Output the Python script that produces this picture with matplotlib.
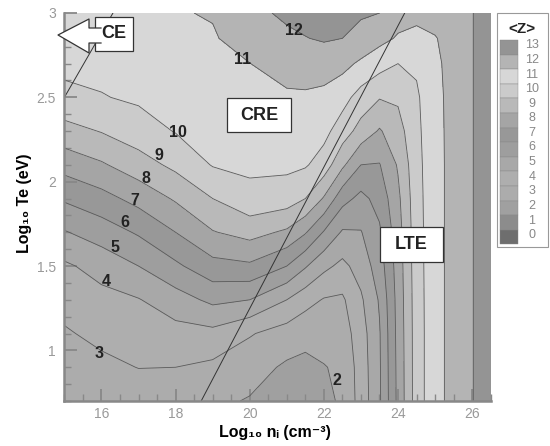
import matplotlib.pyplot as plt
import numpy as np
from matplotlib.patches import Rectangle, Polygon

plt.rcParams['font.family'] = ['Liberation Sans', 'DejaVu Sans']

# malla: log10 ne (cm-3) y log10 Te (eV)
log_ne = [15, 16, 17, 18, 19, 20, 21, 21.5, 22, 22.5, 23, 23.5, 24, 24.5, 25, 25.5, 26, 26.5]
log_te = [0.7, 0.9, 1.1, 1.3, 1.5, 1.7, 1.9, 2.1, 2.3, 2.5, 2.7, 2.85, 3.0]

# <Z>, una fila por cada valor de log_te
z_rows = [
    [2.40, 2.35, 2.45, 2.40, 2.20, 1.93, 1.70, 1.75, 1.75, 2.15, 3.40, 4.85, 7.25, 9.50, 10.70, 11.30, 11.95, 12.80],
    [2.65, 2.78, 3.02, 3.00, 2.79, 2.39, 1.85, 1.80, 1.95, 2.20, 3.45, 4.88, 7.28, 9.50, 10.70, 11.30, 11.95, 12.80],
    [2.90, 3.23, 3.49, 3.65, 3.72, 3.08, 2.56, 2.25, 2.43, 2.50, 3.55, 4.92, 7.32, 9.50, 10.70, 11.30, 11.95, 12.80],
    [3.32, 3.70, 3.95, 4.56, 5.23, 5.00, 4.00, 3.38, 2.93, 2.85, 3.85, 5.10, 7.37, 9.52, 10.70, 11.30, 11.95, 12.80],
    [3.84, 4.37, 5.00, 5.81, 6.67, 6.83, 6.00, 5.10, 4.25, 3.75, 4.41, 5.50, 7.45, 9.55, 10.70, 11.30, 11.95, 12.80],
    [4.93, 5.47, 6.12, 7.00, 7.94, 8.36, 7.83, 7.09, 5.92, 4.88, 4.95, 5.85, 7.58, 9.58, 10.70, 11.30, 11.95, 12.80],
    [6.13, 6.65, 7.33, 8.12, 9.00, 9.69, 9.50, 9.00, 7.90, 6.36, 5.72, 6.35, 7.78, 9.62, 10.70, 11.30, 11.95, 12.80],
    [7.38, 7.88, 8.56, 9.24, 10.06, 10.20, 10.21, 10.10, 9.56, 8.20, 7.00, 6.95, 8.10, 9.68, 10.70, 11.30, 11.95, 12.80],
    [8.63, 9.05, 9.55, 10.05, 10.29, 10.46, 10.54, 10.48, 10.29, 9.50, 8.62, 7.90, 8.60, 9.76, 10.72, 11.30, 11.95, 12.80],
    [9.78, 9.95, 10.15, 10.31, 10.52, 10.72, 10.87, 10.87, 10.76, 10.36, 9.60, 9.06, 9.15, 9.85, 10.75, 11.30, 11.95, 12.80],
    [10.21, 10.27, 10.45, 10.56, 10.76, 10.99, 11.35, 11.45, 11.45, 11.29, 10.83, 10.38, 10.00, 10.15, 10.82, 11.32, 11.95, 12.80],
    [10.40, 10.49, 10.68, 10.76, 10.93, 11.34, 11.78, 11.97, 12.10, 12.00, 11.72, 11.30, 10.90, 10.70, 10.95, 11.35, 11.95, 12.80],
    [10.60, 10.70, 10.90, 10.95, 11.05, 11.70, 12.20, 12.30, 12.40, 12.30, 12.10, 12.00, 11.40, 11.30, 11.35, 11.40, 11.95, 12.80],
]

niveles = list(range(0, 14))
# gris de cada nivel de la leyenda (0..13)
grises = [110, 140, 160, 172, 174, 168, 158, 152, 165, 185, 203, 215, 180, 148]

# etiquetas de contorno
etq_val = ['12', '11', '10', '9', '8', '7', '6', '5', '4', '3', '2']
etq_x = [21.18, 19.80, 18.05, 17.56, 17.21, 16.89, 16.62, 16.36, 16.13, 15.94, 22.34]
etq_y = [2.894, 2.723, 2.289, 2.156, 2.020, 1.886, 1.760, 1.611, 1.411, 0.982, 0.822]

# lineas de frontera CE / LTE
ce_x = [15.0, 16.31]
ce_y = [2.5, 3.0]
lte_x = [18.69, 24.18]
lte_y = [0.7, 3.0]

W, H = 550, 446
fig = plt.figure(figsize=(W/100, H/100), dpi=100)
ax = fig.add_axes([64.4/W, 1-401/H, (490.7-64.4)/W, (401-13)/H])

z = np.array(z_rows)
colores = [str(g/255) for g in grises]
ax.contourf(log_ne, log_te, z, levels=niveles, colors=colores[1:])
ax.contour(log_ne, log_te, z, levels=niveles[1:], colors='#5a5a5a', linewidths=0.6)

ax.plot(ce_x, ce_y, color='#333333', lw=0.7)
ax.plot(lte_x, lte_y, color='#333333', lw=0.7)

for t, x, y in zip(etq_val, etq_x, etq_y):
    ax.text(x, y, t, ha='center', va='center', fontsize=11.5, fontweight='bold', color='#222222')

ax.set_xlim(15, 26.5)
ax.set_ylim(0.7, 3)
ax.set_xticks([16, 18, 20, 22, 24, 26])
ax.set_xticks(np.arange(15, 26.6, 0.5), minor=True)
ax.set_yticks([1, 1.5, 2, 2.5, 3])
ax.set_yticklabels(['1', '1.5', '2', '2.5', '3'])
ax.set_yticks(np.arange(0.7, 3.01, 0.1), minor=True)
ax.tick_params(which='both', direction='in', color='#888888', labelcolor='#999999', labelsize=10)
ax.tick_params(which='major', length=9, width=1.3)
ax.tick_params(which='minor', length=5, width=1.0)
ax.tick_params(axis='x', pad=4)
ax.tick_params(axis='y', pad=6)
for s in ['top', 'right']:
    ax.spines[s].set_visible(False)
for s in ['left', 'bottom']:
    ax.spines[s].set_color('#888888')
    ax.spines[s].set_linewidth(1.8)

fig.text(275/W, 1-433/H, 'Log₁₀ nᵢ (cm⁻³)', ha='center', va='center', fontsize=11.5, fontweight='bold')
fig.text(24/W, 1-203/H, 'Log₁₀ Te (eV)', ha='center', va='center', rotation=90, fontsize=11.5, fontweight='bold')

# capa en pixeles para cajas, flecha y leyenda
ov = fig.add_axes([0, 0, 1, 1])
ov.set_xlim(0, W)
ov.set_ylim(H, 0)
ov.axis('off')

def caja(x0, y0, x1, y1, texto, fs):
    ov.add_patch(Rectangle((x0, y0), x1-x0, y1-y0, facecolor='white', edgecolor='#333333', lw=0.9))
    ov.text((x0+x1)/2, (y0+y1)/2, texto, ha='center', va='center', fontsize=fs, fontweight='bold', color='#222222')

caja(95, 17, 133, 51, 'CE', 13)
caja(227, 98, 291, 132, 'CRE', 13)
caja(380, 227, 443, 262, 'LTE', 13)

# flecha CE
flecha = [(58, 35), (89, 19), (89, 28), (101, 28), (101, 43), (89, 43), (89, 53)]
ov.add_patch(Polygon(flecha, closed=True, facecolor='white', edgecolor='none'))
fx = [101, 89, 89, 58, 89, 89, 101]
fy = [28, 28, 19, 35, 53, 43, 43]
ov.plot(fx, fy, color='#333333', lw=0.9)

# leyenda <Z>
ov.add_patch(Rectangle((497, 13), 51, 234, facecolor='white', edgecolor='#999999', lw=0.8))
ov.text(522, 29, '<Z>', ha='center', va='center', fontsize=11, fontweight='bold', color='#222222')
top, alto = 40, 14.6
for i, n in enumerate(niveles[::-1]):
    y0 = top + i*alto
    ov.add_patch(Rectangle((500, y0), 18, alto, facecolor=colores[n], edgecolor='#888888', lw=0.3))
    ov.text(532, y0 + alto/2 - 2, str(n), ha='center', va='center', fontsize=9, color='#888888')

fig.savefig('out.png', dpi=100)
